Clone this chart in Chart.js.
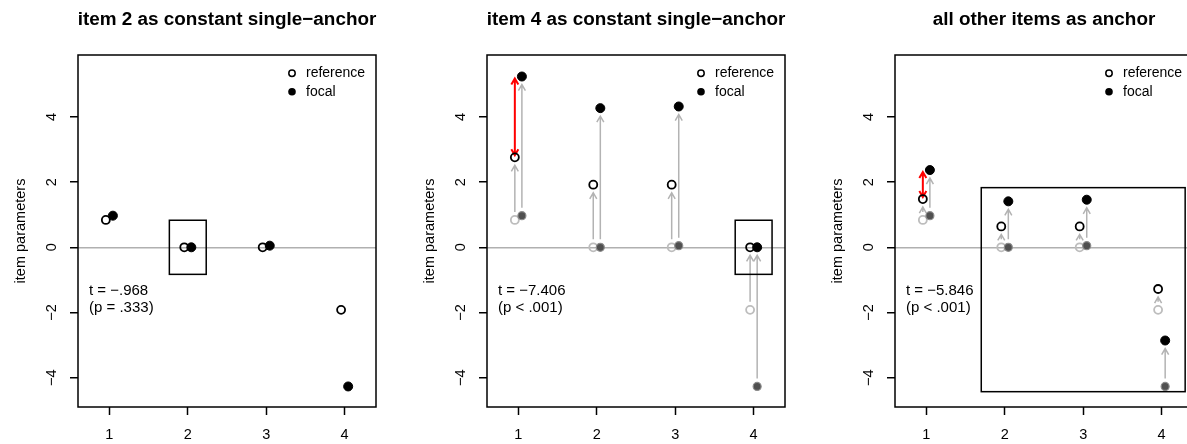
<!DOCTYPE html>
<html>
<head>
<meta charset="utf-8">
<script src="https://cdn.jsdelivr.net/npm/chart.js@4.4.0/dist/chart.umd.min.js"></script>
<style>
  body { margin: 0; background: #fff; }
  #wrap { position: relative; width: 1187px; height: 444px; overflow: hidden; }
  .panel { position: absolute; top: 0; width: 409px; height: 444px; }
</style>
</head>
<body>
<div id="wrap">
  <div class="panel" style="left:0px"><canvas id="c0" width="409" height="444"></canvas></div>
  <div class="panel" style="left:409px"><canvas id="c1" width="409" height="444"></canvas></div>
  <div class="panel" style="left:817px"><canvas id="c2" width="409" height="444"></canvas></div>
</div>
<script>
// --- data ---
const items = [1, 2, 3, 4];
const xTicks = [1, 2, 3, 4];
const yTicks = [-4, -2, 0, 2, 4];
const titles = [
    "item 2 as constant single\u2212anchor",
    "item 4 as constant single\u2212anchor",
    "all other items as anchor"
];
// first estimation (item 2 fixed at 0), shown grey in panels 2 and 3
const refOrig = [0.84, 0, 0, -1.92];
const focOrig = [0.97, 0, 0.05, -4.27];
// item 4 as anchor
const refItem4 = [2.76, 1.92, 1.92, 0];
const focItem4 = [5.24, 4.27, 4.32, 0];
// all other items as anchor
const refAllOther = [1.48, 0.64, 0.64, -1.28];
const focAllOther = [2.37, 1.41, 1.46, -2.86];
const tValues = ["t = \u2212.968", "t = \u22127.406", "t = \u22125.846"];
const pValues = ["(p = .333)", "(p < .001)", "(p < .001)"];
// anchor boxes (data units)
const anchorX0 = [1.765, 3.765, 1.70];
const anchorX1 = [2.235, 4.235, 4.30];
const anchorY0 = [-0.83, -0.83, -4.43];
const anchorY1 = [0.83, 0.83, 1.83];
const difItem = [null, 1, 1];

const panels = [
    { ref: refOrig, foc: focOrig, shifted: false },
    { ref: refItem4, foc: focItem4, shifted: true },
    { ref: refAllOther, foc: focAllOther, shifted: true }
];

const FONT = "'Liberation Sans', Arial, Helvetica, sans-serif";
const OFF = 0.045;
Chart.defaults.font.family = FONT;

function pts(vals, dx) {
    return items.map((it, i) => ({ x: it + dx, y: vals[i] }));
}

function arrow(ctx, x, ya, yb, color, lw, both) {
    const len = 7, a = Math.PI / 6;
    ctx.save();
    ctx.strokeStyle = color;
    ctx.lineWidth = lw;
    ctx.beginPath();
    ctx.moveTo(x, ya);
    ctx.lineTo(x, yb);
    const head = (tip, dir) => {
        ctx.moveTo(x - len * Math.sin(a), tip - dir * len * Math.cos(a));
        ctx.lineTo(x, tip);
        ctx.lineTo(x + len * Math.sin(a), tip - dir * len * Math.cos(a));
    };
    const dir = Math.sign(yb - ya) || 1;
    head(yb, dir);
    if (both) head(ya, -dir);
    ctx.stroke();
    ctx.restore();
}

const rPlot = {
    id: "rPlot",
    beforeDatasetsDraw(chart) {
        const k = chart.options.plugins.rPlot.panel;
        const p = panels[k];
        const ctx = chart.ctx;
        const xs = chart.scales.x, ys = chart.scales.y;
        if (p.shifted) {
            const pairs = [[refOrig, p.ref, -OFF], [focOrig, p.foc, OFF]];
            pairs.forEach(([from, to, dx]) => {
                items.forEach((it, i) => {
                    const x = xs.getPixelForValue(it + dx);
                    const y0 = ys.getPixelForValue(from[i]);
                    const y1 = ys.getPixelForValue(to[i]);
                    const dir = Math.sign(y1 - y0);
                    if (!dir) return;
                    arrow(ctx, x, y0 + dir * 8, y1 - dir * 8, "#b3b3b3", 1.5, false);
                });
            });
        }
        if (difItem[k] !== null) {
            const i = items.indexOf(difItem[k]);
            const x = xs.getPixelForValue(items[i] - OFF);
            const y0 = ys.getPixelForValue(p.ref[i]);
            const y1 = ys.getPixelForValue(p.foc[i]);
            const dir = Math.sign(y1 - y0);
            arrow(ctx, x, y0 + dir * 2, y1 - dir * 2, "#ff0000", 2, true);
        }
    },
    afterDatasetsDraw(chart) {
        const k = chart.options.plugins.rPlot.panel;
        const ctx = chart.ctx;
        const area = chart.chartArea;
        const xs = chart.scales.x, ys = chart.scales.y;
        ctx.save();
        // anchor box
        ctx.strokeStyle = "#000";
        ctx.lineWidth = 1.5;
        const bx0 = xs.getPixelForValue(anchorX0[k]), bx1 = xs.getPixelForValue(anchorX1[k]);
        const by0 = ys.getPixelForValue(anchorY0[k]), by1 = ys.getPixelForValue(anchorY1[k]);
        ctx.strokeRect(bx0, by1, bx1 - bx0, by0 - by1);
        // plot frame
        ctx.strokeRect(area.left, area.top, area.right - area.left, area.bottom - area.top);

        ctx.fillStyle = "#000";
        // title
        ctx.font = "bold 18.9px " + FONT;
        ctx.textAlign = "center";
        ctx.textBaseline = "alphabetic";
        ctx.fillText(titles[k], (area.left + area.right) / 2, 25);

        // y tick labels, parallel to the axis
        ctx.font = "14.5px " + FONT;
        ctx.textBaseline = "middle";
        yTicks.forEach(v => {
            ctx.save();
            ctx.translate(area.left - 26, ys.getPixelForValue(v));
            ctx.rotate(-Math.PI / 2);
            ctx.fillText(v < 0 ? "\u2212" + Math.abs(v) : String(v), 0, 0);
            ctx.restore();
        });
        // y axis title
        ctx.save();
        ctx.translate(area.left - 57, (area.top + area.bottom) / 2);
        ctx.rotate(-Math.PI / 2);
        ctx.fillText("item parameters", 0, 0);
        ctx.restore();

        // t statistic
        ctx.font = "15px " + FONT;
        ctx.textAlign = "left";
        ctx.fillText(tValues[k], area.left + 11, ys.getPixelForValue(-1.33));
        ctx.fillText(pValues[k], area.left + 11, ys.getPixelForValue(-1.87));

        // legend
        const lx = area.right - 84;
        const ly = [area.top + 18.3, area.top + 36.7];
        ctx.lineWidth = 1.5;
        ctx.beginPath();
        ctx.arc(lx, ly[0], 3.2, 0, Math.PI * 2);
        ctx.stroke();
        ctx.beginPath();
        ctx.arc(lx, ly[1], 3.8, 0, Math.PI * 2);
        ctx.fill();
        ctx.font = "14px " + FONT;
        ctx.fillText("reference", area.right - 70, ly[0]);
        ctx.fillText("focal", area.right - 70, ly[1]);
        ctx.restore();
    }
};

panels.forEach((p, k) => {
    const datasets = [
        { data: pts(p.foc, OFF), pointRadius: 4.5, backgroundColor: "#000", borderColor: "#000", borderWidth: 1 },
        { data: pts(p.ref, -OFF), pointRadius: 4, backgroundColor: "rgba(0,0,0,0)", borderColor: "#000", borderWidth: 1.8 }
    ];
    if (p.shifted) {
        datasets.push(
            { data: pts(focOrig, OFF), pointRadius: 4, backgroundColor: "#505050", borderColor: "#8c8c8c", borderWidth: 1.2 },
            { data: pts(refOrig, -OFF), pointRadius: 4, backgroundColor: "rgba(0,0,0,0)", borderColor: "#bdbdbd", borderWidth: 1.8 }
        );
    }

    new Chart(document.getElementById("c" + k), {
        type: "scatter",
        data: { datasets: datasets },
        options: {
            responsive: false,
            animation: false,
            events: [],
            layout: { padding: { top: 55, right: 33, left: 0, bottom: 0 } },
            plugins: {
                legend: { display: false },
                tooltip: { enabled: false },
                rPlot: { panel: k }
            },
            scales: {
                x: {
                    type: "linear",
                    min: 0.6,
                    max: 4.4,
                    afterBuildTicks: s => { s.ticks = xTicks.map(v => ({ value: v })); },
                    afterFit: s => { s.height = 37; },
                    border: { display: false },
                    grid: { drawOnChartArea: false, tickLength: 8, tickColor: "#000", tickWidth: 1.5 },
                    ticks: { color: "#000", font: { size: 14.5 }, padding: 11, maxRotation: 0 }
                },
                y: {
                    type: "linear",
                    min: -4.9,
                    max: 5.9,
                    afterBuildTicks: s => { s.ticks = yTicks.map(v => ({ value: v })); },
                    afterFit: s => { s.width = 78; },
                    border: { display: false },
                    grid: {
                        color: c => (c.tick && c.tick.value === 0 ? "#b0b0b0" : "rgba(0,0,0,0)"),
                        lineWidth: 1.5,
                        tickLength: 8,
                        tickColor: "#000",
                        tickWidth: 1.5
                    },
                    ticks: { display: false }
                }
            }
        },
        plugins: [rPlot]
    });
});
</script>
</body>
</html>
